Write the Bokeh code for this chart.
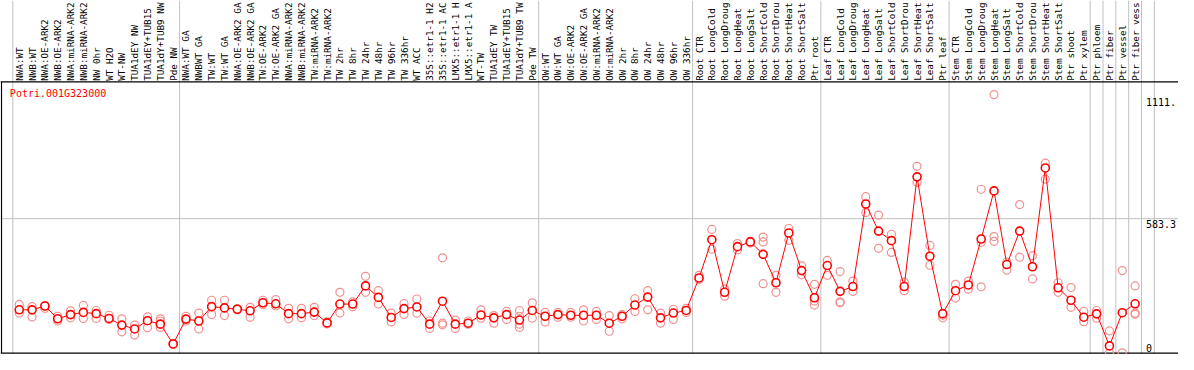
import math
from bokeh.plotting import figure
from bokeh.models import Range1d
from bokeh.core.properties import value
from bokeh.embed import file_html
from bokeh.resources import INLINE

gene = "Potri.001G323000"

# column labels as they appear (the reference shows at most 14 characters)
labels = [
    "NWA:WT", "NWB:WT", "NWA:OE-ARK2", "NWB:OE-ARK2", "NWA:miRNA-ARK2", "NWB:miRNA-ARK2",
    "NW 0hr", "WT H2O", "WT-NW", "TUA1dEY NW", "TUA1dEY+TUB15", "TUA1dY+TUB9 NW", "Pde NW",
    "NWA:WT GA", "NWBWT GA", "TW:WT", "TW:WT GA", "NWA:OE-ARK2 GA", "NWB:OE-ARK2 GA",
    "TW:OE-ARK2", "TW:OE-ARK2 GA", "NWA:miRNA-ARK2", "NWB:miRNA-ARK2", "TW:miRNA-ARK2",
    "TW:miRNA-ARK2", "TW 2hr", "TW 8hr", "TW 24hr", "TW 48hr", "TW 96hr", "TW 336hr",
    "WT ACC", "35S::etr1-1 H2", "35S::etr1-1 AC", "LMX5::etr1-1 H", "LMX5::etr1-1 A",
    "WT-TW", "TUA1dEY TW", "TUA1dEY+TUB15", "TUA1dY+TUB9 TW", "Pde TW",
    "OW:WT", "OW:WT GA", "OW:OE-ARK2", "OW:OE-ARK2 GA", "OW:miRNA-ARK2", "OW:miRNA-ARK2",
    "OW 2hr", "OW 8hr", "OW 24hr", "OW 48hr", "OW 96hr", "OW 336hr",
    "Root CTR", "Root LongCold", "Root LongDroug", "Root LongHeat", "Root LongSalt",
    "Root ShortCold", "Root ShortDrou", "Root ShortHeat", "Root ShortSalt", "Ptr root",
    "Leaf CTR", "Leaf LongCold", "Leaf LongDroug", "Leaf LongHeat", "Leaf LongSalt",
    "Leaf ShortCold", "Leaf ShortDrou", "Leaf ShortHeat", "Leaf ShortSalt", "Ptr leaf",
    "Stem CTR", "Stem LongCold", "Stem LongDroug", "Stem LongHeat", "Stem LongSalt",
    "Stem ShortCold", "Stem ShortDrou", "Stem ShortHeat", "Stem ShortSalt", "Ptr shoot",
    "Ptr xylem", "Ptr phloem", "Ptr fiber", "Ptr vessel", "Ptr fiber vess",
]

group_sizes = [13, 28, 12, 10, 10, 11, 1, 1, 1, 1, 1]

means = [
    189.1, 189.0, 205.6, 150.2, 168.4, 177.9, 172.5, 151.8, 122.9, 106.3, 141.9, 127.0, 41.4,
    148.9, 140.7, 202.7, 197.3, 191.5, 184.9, 219.3, 215.1, 172.5, 172.5, 179.1, 132.4, 213.9,
    213.9, 292.5, 242.8, 156.0, 194.4, 201.5, 127.0, 226.3, 127.0, 131.1, 166.7, 154.3, 168.4,
    144.8, 186.2,
    161.3, 168.4, 165.5, 165.5, 165.5, 131.1, 161.3, 209.7, 244.1, 154.3, 175.0, 186.2,
    326.8, 492.3, 264.8, 462.1, 482.8, 429.0, 306.1, 521.2, 358.7, 241.2,
    380.6, 268.9, 289.6, 646.6, 529.5, 488.1, 289.6, 764.1, 420.7, 172.5,
    271.8, 296.6, 495.2, 703.3, 384.7, 529.5, 375.2, 802.5, 284.2, 230.4, 157.2,
    171.7, 33.1, 176.6, 215.1,
]

replicates = [
    [212.2, 175.0], [202.7, 158.4], [206.8, 195.7], [161.3, 140.7], [184.9, 154.3],
    [208.1, 151.8], [186.2, 151.8], [165.5, 147.7], [150.2, 93.9], [122.9, 79.8],
    [158.4, 111.7], [150.2, 140.7, 112.9], [44.0, 39.0],
    [161.3, 140.7], [175.0, 106.3], [230.4, 168.4], [230.4, 164.2], [194.4, 189.0],
    [199.8, 157.2], [230.4, 212.2], [232.9, 205.6], [195.7, 150.2], [195.7, 154.3],
    [199.8, 164.2], [136.5, 128.2], [264.8, 175.0], [223.4, 202.7], [333.8, 264.8],
    [271.8, 213.9], [175.0, 136.5], [216.4, 168.4], [235.8, 175.0], [140.7, 108.8],
    [413.7, 131.1, 124.1], [144.8, 108.8], [140.7, 127.0], [189.0, 153.1], [164.2, 131.1],
    [182.0, 147.7], [186.2, 161.3, 127.0, 112.9], [219.3, 153.1],
    [177.9, 136.5], [177.9, 157.2], [177.9, 157.2], [189.0, 140.7], [182.0, 147.7],
    [164.2, 96.4], [168.4, 150.2], [237.0, 182.0], [271.8, 189.0], [175.0, 131.1],
    [191.5, 147.7], [195.7, 177.9],
    [338.0, 319.8], [536.6, 450.9], [278.4, 248.2], [475.7, 448.0], [485.3, 477.8],
    [503.5, 482.8, 302.0], [338.0, 264.8], [540.7, 489.4], [379.4, 340.5],
    [299.1, 227.5, 209.7],
    [402.5, 338.0], [354.5, 223.4, 219.3], [313.2, 268.9], [678.4, 609.4], [598.6, 455.0],
    [515.9, 437.3], [309.0, 271.8], [809.6, 740.5], [467.5, 381.8], [165.5, 154.3],
    [299.1, 239.9], [313.2, 278.4], [710.3, 481.1, 288.3], [1119.8, 505.9, 485.3],
    [395.9, 361.1], [644.1, 416.6], [423.2, 322.7], [823.2, 754.1], [306.1, 264.8],
    [285.4, 199.8], [182.0, 137.8],
    [186.2, 153.1], [98.0, 2.9], [358.7, 2.9], [292.5, 175.0, 169.6],
]

tick_values = [1111.1, 583.3, 0.0]
tick_labels = ["1111.", "583.3", "0"]

# ---- layout geometry (reference pixels -> data units) ----
REF_W, REF_H = 1194, 370
COL0, COL_W = 12.5, 13.0
BASE_Y = 369.0
PX_PER_UNIT = 141.0 / 583.3


def xu(px):
    return (px - COL0) / COL_W


def yu(py):
    return (BASE_Y - py) / PX_PER_UNIT


W, H = 1178, 354
p = figure(width=W, height=H,
           x_range=Range1d(xu(0), xu(REF_W)), y_range=Range1d(yu(REF_H), yu(0)),
           x_axis_type=None, y_axis_type=None,
           output_backend="svg", toolbar_location=None,
           min_border=0, min_border_left=0, min_border_right=0,
           min_border_top=0, min_border_bottom=0,
           outline_line_color=None, background_fill_color="white",
           border_fill_color="white")

mono = value("DejaVu Sans Mono")
n = len(labels)
centers = [i + 0.5 for i in range(n)]

# group separators
bounds = [0]
for g in group_sizes:
    bounds.append(bounds[-1] + g)
p.segment(x0=bounds, y0=[yu(REF_H)] * len(bounds), x1=bounds, y1=[yu(0)] * len(bounds),
          line_color="#c0c0c0", line_width=1)

# horizontal grid line at middle tick
p.segment(x0=[xu(0)], y0=[tick_values[1]], x1=[xu(REF_W)], y1=[tick_values[1]],
          line_color="#c0c0c0", line_width=1)

# black frame lines
p.segment(x0=[xu(0), xu(0), xu(1)], y0=[yu(85), yu(368.5), yu(85)],
          x1=[xu(REF_W), xu(REF_W), xu(1)], y1=[yu(85), yu(368.5), yu(368.5)],
          line_color="black", line_width=1.2)

# replicate points
rx, ry = [], []
for i, vals in enumerate(replicates):
    for v in vals:
        rx.append(i + 0.5)
        ry.append(v)
p.scatter(x=rx, y=ry, marker="circle", size=8, fill_color=None,
          line_color="#f09090", line_width=1.2)

# mean line and points
p.line(x=centers, y=means, line_color="red", line_width=1)
p.scatter(x=centers, y=means, marker="circle", size=8, fill_color="white",
          line_color="red", line_width=1.6)

# column labels (vertical)
p.text(x=centers, y=[yu(84)] * n, text=labels, angle=math.pi / 2,
       text_align="left", text_baseline="middle", text_font=mono,
       text_font_size="9.3px", text_color="black")

# gene name
p.text(x=[xu(9.5)], y=[yu(91)], text=[gene], text_align="left", text_baseline="top",
       text_font=mono, text_font_size="10px", text_color="red")

# value labels on right
p.text(x=[xu(1161)] * 2, y=tick_values[:2], text=tick_labels[:2], text_align="left",
       text_baseline="top", text_font=mono, text_font_size="10px", text_color="black",
       y_offset=1)
p.text(x=[xu(1161)], y=[tick_values[2]], text=[tick_labels[2]], text_align="left",
       text_baseline="bottom", text_font=mono, text_font_size="10px", text_color="black",
       y_offset=-2)

open("out.html", "w").write(file_html(p, INLINE))
